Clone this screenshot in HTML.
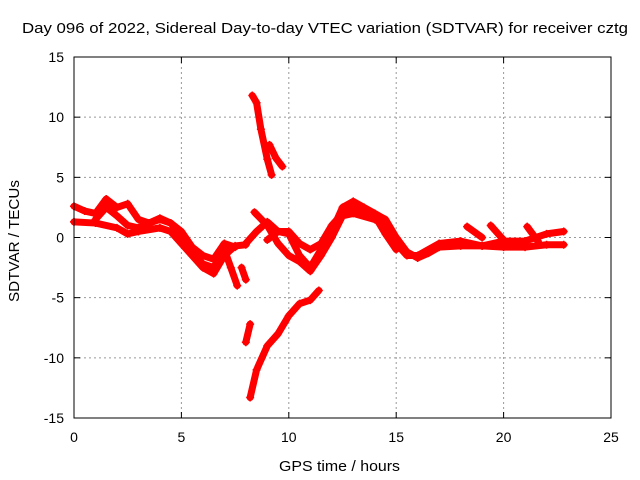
<!DOCTYPE html>
<html><head><meta charset="utf-8"><style>
body{margin:0;background:#fff}
svg{display:block;font-family:"Liberation Sans",sans-serif}
</style></head><body>
<svg id="chart" width="640" height="480" viewBox="0 0 640 480">
<text x="22" y="33" font-size="15" textLength="606" lengthAdjust="spacingAndGlyphs">Day 096 of 2022, Sidereal Day-to-day VTEC variation (SDTVAR) for receiver cztg</text>
<text x="279" y="471" font-size="15" textLength="121" lengthAdjust="spacingAndGlyphs">GPS time / hours</text>
<text x="0" y="0" font-size="15" textLength="122" lengthAdjust="spacingAndGlyphs" transform="translate(19,302) rotate(-90)">SDTVAR / TECUs</text>
<g id="grid"></g>
<g id="ticks"></g>
<g id="marks"></g>
<rect x="74" y="57" width="537" height="361" fill="none" stroke="#000" stroke-width="1"/>
</svg>
<script>
const xTicks=[0,5,10,15,20,25];
const yTicks=[-15,-10,-5,0,5,10,15];
const trackA=[[0,2.6],[0.5,2.2],[1,2.0],[1.5,3.2],[2,2.5],[2.5,2.8],[3,1.5],[3.5,1.2],[4,1.5],[4.5,1.2],[5,0.2],[5.5,-1.2],[6,-2.2],[6.5,-2.5],[7,-1]];
const trackB=[[0,1.3],[1,1.2],[2,0.8],[2.5,0.3],[3,0.5],[4,0.8],[4.5,0.5],[5,-0.5],[5.5,-1.5],[6,-2.5],[6.5,-3],[7,-1.5],[7.5,-0.7],[8,-0.6]];
const trackC=[[1,1.5],[1.5,2.5],[2,1.8],[2.5,1],[3,0.8],[4,1.6],[4.5,1.2],[5,0.5],[5.5,-0.8],[6,-1.5],[6.5,-1.8],[7,-0.5],[7.5,-0.8]];
const trackDrop1=[[7,-1],[7.3,-2.5],[7.6,-4]];
const trackDrop2=[[7.8,-2.5],[8,-3.5]];
const trackSteepUp=[[8.3,11.8],[8.5,11.2],[8.7,9],[9,6.5],[9.2,5.2]];
const trackSteepUp2=[[9.1,7.7],[9.4,6.6],[9.7,5.9]];
const trackSteepDown=[[8.2,-13.3],[8.5,-11],[9,-9],[9.5,-8],[10,-6.5],[10.5,-5.5],[11,-5.2],[11.4,-4.4]];
const trackSmall=[[8,-8.7],[8.2,-7.2]];
const trackD=[[8,-0.5],[8.5,0.5],[9,1.3],[9.5,0.5],[10,0.3],[10.5,-1.5],[11,-2.5],[11.5,-1],[12,0.5],[12.5,2.5],[13,3],[13.5,2.5],[14,2],[14.5,1.5],[15,0],[15.5,-1.2],[16,-1.7],[16.5,-1.3],[17,-0.8],[18,-0.7],[19,-0.7],[20,-0.8],[21,-0.8],[22,-0.6],[22.8,-0.6]];
const trackE=[[8.4,2.1],[9,1],[9.5,-0.5],[10,-1.5],[10.5,-2],[11,-2.8],[11.5,-1.5],[12,0],[12.5,1.8],[13,2],[14,1.5],[14.5,1],[15,-0.5],[15.5,-1.5],[16,-1.5],[17,-0.5],[18,-0.3],[19,-0.7],[20,-0.3],[21,-0.3],[22,0.3],[22.8,0.5]];
const trackF=[[9,-0.2],[9.5,0.5],[10,0.5],[10.5,-0.5],[11,-1],[11.5,-0.5],[12,1],[12.5,2],[13,2.5],[13.5,2],[14,1.8],[14.5,0.3],[15,-1]];
const trackG=[[18.3,0.9],[19,0]];
const trackH=[[19.4,1.0],[20,-0.2]];
const trackI=[[21.1,0.9],[21.6,-0.3]];
const tracks=[trackA,trackB,trackC,trackDrop1,trackDrop2,trackSteepUp,trackSteepUp2,trackSteepDown,trackSmall,trackD,trackE,trackF,trackG,trackH,trackI];

const NS="http://www.w3.org/2000/svg";
const L=74,R=611,T=57,B=418;
const sx=v=>L+(v-0)/25*(R-L);
const sy=v=>B-(v+15)/30*(B-T);
const grid=document.getElementById('grid'),ticks=document.getElementById('ticks'),marks=document.getElementById('marks');
function mk(tag,attrs,parent){const e=document.createElementNS(NS,tag);for(const k in attrs)e.setAttribute(k,attrs[k]);parent.appendChild(e);return e;}
xTicks.forEach(t=>{const x=sx(t);
 if(t>0&&t<25){const g=mk('line',{x1:x,x2:x,y1:T,y2:B,stroke:'#999','stroke-dasharray':'2,3'},grid);
 
 }
 mk('line',{x1:x,x2:x,y1:B,y2:B-6,stroke:'#000'},ticks);mk('line',{x1:x,x2:x,y1:T,y2:T+6,stroke:'#000'},ticks);
 const tx=mk('text',{x:x,y:B+24,'font-size':14,'text-anchor':'middle'},ticks);tx.textContent=t;
 
 });
yTicks.forEach(t=>{const y=sy(t);
 if(t>-15&&t<15){const g=mk('line',{x1:L,x2:R,y1:y,y2:y,stroke:'#999','stroke-dasharray':'2,3'},grid);
 
 }
 mk('line',{x1:L,x2:L+6,y1:y,y2:y,stroke:'#000'},ticks);mk('line',{x1:R,x2:R-6,y1:y,y2:y,stroke:'#000'},ticks);
 const tx=mk('text',{x:L-10,y:y+5,'font-size':14,'text-anchor':'end'},ticks);tx.textContent=t;
 
 });
tracks.forEach(tr=>{
 const pl=mk('polyline',{points:tr.map(p=>sx(p[0])+','+sy(p[1])).join(' '),fill:'none',stroke:'#f00','stroke-width':7,'stroke-linejoin':'round','stroke-linecap':'round'},marks);
 
 
 tr.forEach(p=>{const x=sx(p[0]),y=sy(p[1]);
  const m=mk('path',{d:`M${x-4},${y}H${x+4}M${x},${y-4}V${y+4}`,stroke:'#f00','stroke-width':1.5},marks);
  
  });
});
</script>
</body></html>
